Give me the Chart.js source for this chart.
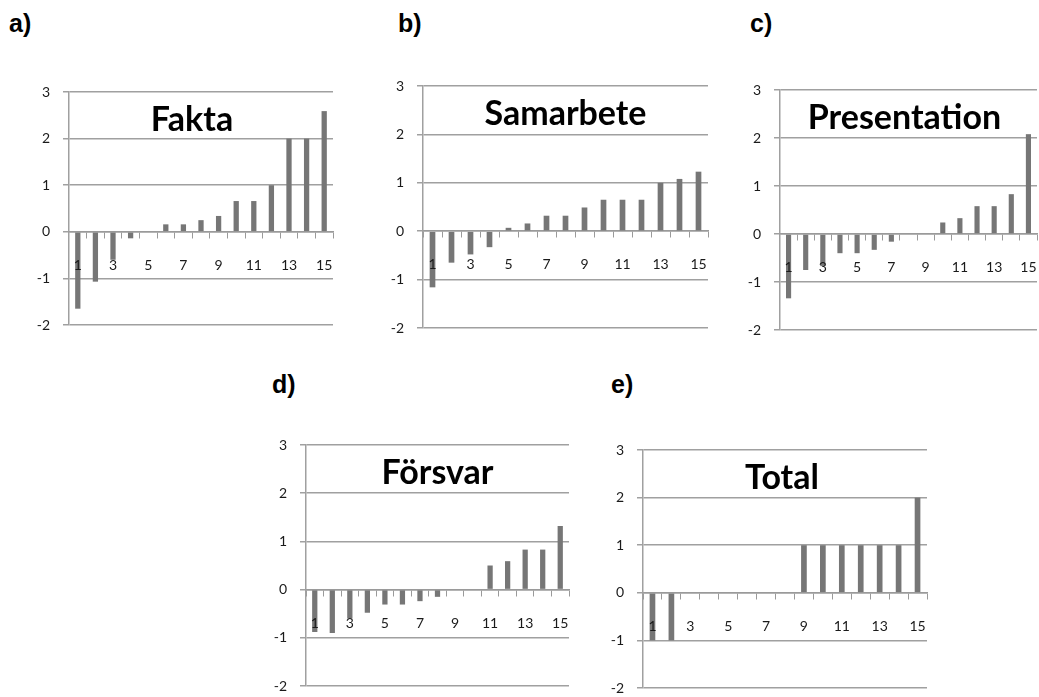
<!DOCTYPE html>
<html>
<head>
<meta charset="utf-8">
<script src="https://cdn.jsdelivr.net/npm/chart.js@4"></script>
<style>
  body { margin: 0; width: 1039px; height: 697px; overflow: hidden; background: #fff; position: relative; font-family: "Liberation Sans", Arial, sans-serif; }
  .tag { position: absolute; font-weight: bold; font-size: 25px; color: #000; }
  .box { position: absolute; }
</style>
</head>
<body>
<div class="tag" style="left:9px;top:9px">a)</div>
<div class="tag" style="left:398px;top:9px">b)</div>
<div class="tag" style="left:750px;top:9px">c)</div>
<div class="tag" style="left:272px;top:370px">d)</div>
<div class="tag" style="left:611px;top:370px">e)</div>

<div class="box" style="left:25px;top:82px;width:312px;height:253px"><canvas id="fakta"></canvas></div>
<div class="box" style="left:379px;top:76px;width:333px;height:262px"><canvas id="samarbete"></canvas></div>
<div class="box" style="left:736px;top:80px;width:305px;height:260px"><canvas id="presentation"></canvas></div>
<div class="box" style="left:262px;top:435px;width:311px;height:261px"><canvas id="forsvar"></canvas></div>
<div class="box" style="left:599px;top:440px;width:332px;height:258px"><canvas id="total"></canvas></div>

<script>
// students 1..15, only odd ones are labelled on the axis
const categories = ["1","2","3","4","5","6","7","8","9","10","11","12","13","14","15"];
const yMin = -2;
const yMax = 3;

const fakta        = [-1.65, -1.07, -0.6, -0.14, 0, 0.16, 0.16, 0.25, 0.34, 0.66, 0.66, 1, 2, 2, 2.59];
const samarbete    = [-1.16, -0.65, -0.48, -0.33, 0.07, 0.16, 0.32, 0.32, 0.49, 0.65, 0.65, 0.65, 1, 1.08, 1.23];
const presentation = [-1.34, -0.75, -0.67, -0.4, -0.4, -0.33, -0.16, 0, 0, 0.24, 0.33, 0.58, 0.58, 0.83, 2.08];
const forsvar      = [-0.88, -0.9, -0.6, -0.48, -0.31, -0.31, -0.24, -0.15, 0, 0, 0.5, 0.59, 0.83, 0.83, 1.32];
const total        = [-1, -1, 0, 0, 0, 0, 0, 0, 1, 1, 1, 1, 1, 1, 2];

// title drawn inside the plot area, like the excel charts
const innerTitle = {
  id: "innerTitle",
  afterDatasetsDraw(chart, args, opts) {
    const ctx = chart.ctx, a = chart.chartArea;
    ctx.save();
    ctx.font = "bold 34px Lato";
    ctx.fillStyle = "#000";
    ctx.textAlign = "center";
    ctx.textBaseline = "middle";
    ctx.fillText(opts.text, (a.left + a.right) / 2 + (opts.dx || 0), a.top + 28);
    ctx.restore();
  }
};

function makeChart(id, title, values, dx) {
  new Chart(document.getElementById(id), {
    type: "bar",
    data: {
      labels: categories,
      datasets: [{ data: values, backgroundColor: "#767676", categoryPercentage: 1, barPercentage: 0.3 }]
    },
    plugins: [innerTitle],
    options: {
      responsive: true,
      maintainAspectRatio: false,
      animation: false,
      layout: { padding: { top: 10, bottom: 10, right: 4, left: 0 } },
      plugins: { legend: { display: false }, tooltip: { enabled: false }, innerTitle: { text: title, dx: dx } },
      scales: {
        x: {
          position: { y: 0 },
          // tick padding would otherwise eat into the plot width
          afterFit: (s) => { s.paddingLeft = 0; s.paddingRight = 0; },
          grid: { drawOnChartArea: false, drawTicks: true, tickLength: 6, color: "#9a9a9a", offset: true },
          border: { display: true, color: "#9a9a9a", width: 1.5 },
          ticks: {
            z: 1, autoSkip: false, maxRotation: 0, padding: 19, color: "#1a1a1a",
            font: { family: "Lato", size: 14 },
            callback: (v, i) => (i % 2 === 0 ? categories[i] : "")
          }
        },
        y: {
          min: yMin, max: yMax,
          afterFit: (s) => { s.width = 44; s.paddingTop = 0; s.paddingBottom = 0; },
          grid: { color: "#a0a0a0", lineWidth: 1.5, tickLength: 6 },
          border: { display: true, color: "#a0a0a0", width: 1.5 },
          ticks: { stepSize: 1, padding: 13, color: "#1a1a1a", font: { family: "Lato", size: 14 } }
        }
      }
    }
  });
}

makeChart("fakta", "Fakta", fakta, -9);
makeChart("samarbete", "Samarbete", samarbete, 0);
makeChart("presentation", "Presentation", presentation, -4);
makeChart("forsvar", "Försvar", forsvar, 0);
makeChart("total", "Total", total, -3);
</script>
</body>
</html>
